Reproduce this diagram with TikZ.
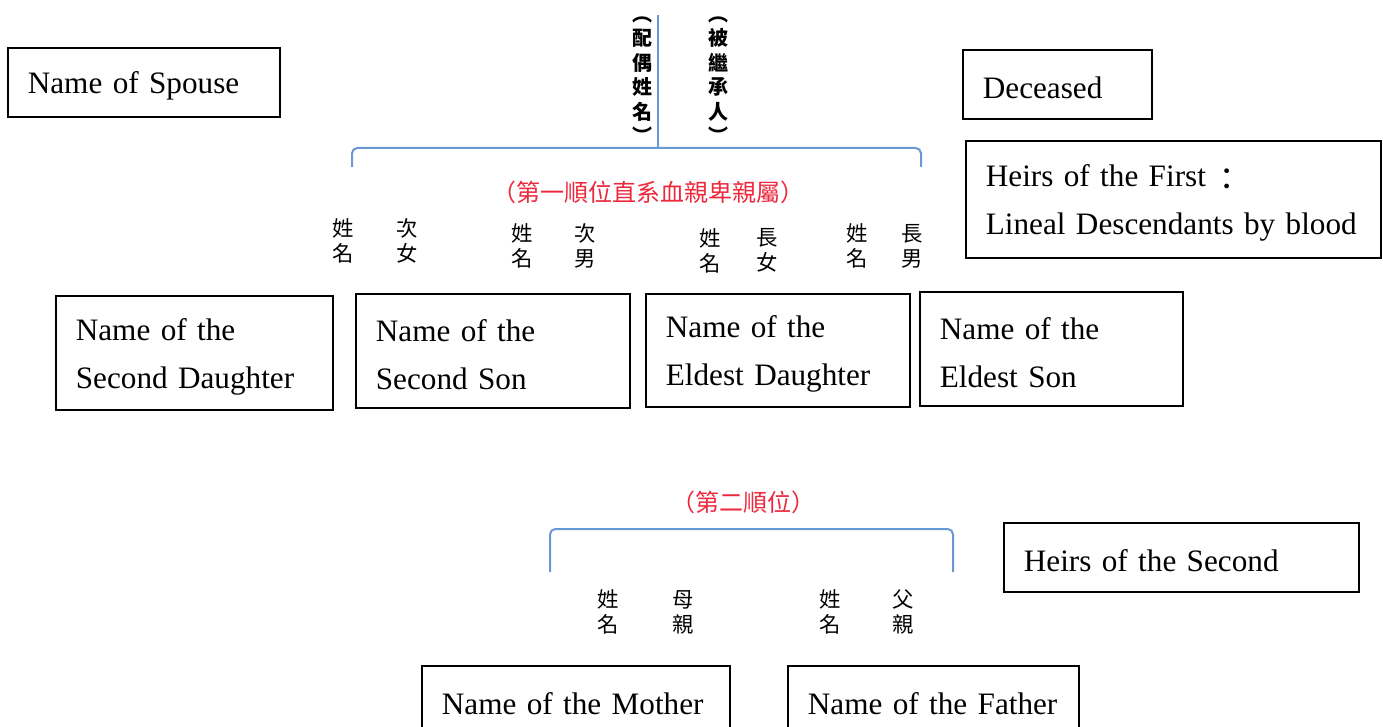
\documentclass[tikz,border=0pt]{standalone}
\usepackage{fontspec}
\setmainfont{Liberation Serif}
\newfontfamily\cjk{Noto Sans CJK TC}
\definecolor{bracketblue}{RGB}{104,152,214}
\definecolor{heirred}{RGB}{236,40,60}
\hyphenpenalty=10000

\begin{document}
\begin{tikzpicture}[x=0.75pt, y=-0.75pt,
    namebox/.style={draw, line width=1.3pt, anchor=north west, align=left,
        inner xsep=15pt, inner ysep=0pt, font=\fontsize{23.4}{36}\selectfont,
        execute at begin node={\rule{0pt}{22pt}}},
    zhpair/.style={font=\cjk\fontsize{16}{18.75}\selectfont, align=center, inner sep=0pt},
    zhcol/.style={font=\cjk\bfseries\fontsize{15}{18.4}\selectfont, align=center, inner sep=0pt},
    zhred/.style={font=\cjk\fontsize{18}{20}\selectfont, text=heirred, inner sep=0pt},
    bracket/.style={draw=bracketblue, line width=1.5pt, rounded corners=4pt}]
    \useasboundingbox (0,0) rectangle (1383,727);
    \clip (0,0) rectangle (1383,727);

    % Spouse and deceased on top
    \node[namebox, text width=174pt, minimum height=51.75pt] (spouse) at (7,47) {Name of Spouse};
    \node[namebox, text width=111.75pt, minimum height=51.75pt] (deceased) at (962,49) {Deceased};
    \node[zhcol] (spousezh) at (642,80) {︵\\配\\偶\\姓\\名\\︶};
    \node[zhcol] (deceasedzh) at (718,80) {︵\\被\\繼\\承\\人\\︶};

    % First order: children
    \node[namebox, text width=281.25pt, minimum height=87.75pt] (firstheirs) at (965,140)
        {Heirs of the First\,{\cjk\raisebox{-0.12em}{：}}\\Lineal Descendants by blood};
    \node[zhred] (firstorder) at (648,192) {（第一順位直系血親卑親屬）};

    \node[zhpair] (d2name) at (343,241) {姓\\名};
    \node[zhpair] (d2rel) at (407,241) {次\\女};
    \node[zhpair] (s2name) at (522,246) {姓\\名};
    \node[zhpair] (s2rel) at (585,246) {次\\男};
    \node[zhpair] (d1name) at (710,251) {姓\\名};
    \node[zhpair] (d1rel) at (767,250) {長\\女};
    \node[zhpair] (s1name) at (857,246) {姓\\名};
    \node[zhpair] (s1rel) at (912,246) {長\\男};

    \node[namebox, text width=177.75pt, minimum height=85.5pt] (daughter2) at (55,295) {Name of the\\Second Daughter};
    \node[namebox, text width=175.5pt, minimum height=85.5pt] (son2) at (355,293) {Name of the\\Second Son};
    \node[namebox, text width=168pt, minimum height=84.75pt] (daughter1) at (645,293) {Name of the\\Eldest Daughter};
    \node[namebox, text width=167.25pt, minimum height=85.5pt] (son1) at (919,291) {Name of the\\Eldest Son};

    % Second order: parents
    \node[zhred] (secondorder) at (743,502) {（第二順位）};
    \node[namebox, text width=236.25pt, minimum height=51.75pt] (secondheirs) at (1003,522) {Heirs of the Second};

    \node[zhpair] (mname) at (608,612) {姓\\名};
    \node[zhpair] (mrel) at (683,612) {母\\親};
    \node[zhpair] (fname) at (830,612) {姓\\名};
    \node[zhpair] (frel) at (903,612) {父\\親};

    \node[namebox, text width=201pt, minimum height=51.75pt] (mother) at (421,665) {Name of the Mother};
    \node[namebox, text width=188.25pt, minimum height=51.75pt] (father) at (787,665) {Name of the Father};

    % Brackets
    \coordinate (stemtop) at (658,15);
    \coordinate (b1left) at (352,167);
    \coordinate (b1mid) at (658,148);
    \coordinate (b1right) at (921,167);
    \draw[bracket] (b1left) |- (b1mid) -| (b1right);
    \draw[bracket] (stemtop) -- (b1mid);

    \coordinate (b2left) at (550,572);
    \coordinate (b2mid) at (751,529);
    \coordinate (b2right) at (953,572);
    \draw[bracket] (b2left) |- (b2mid) -| (b2right);
\end{tikzpicture}
\end{document}
